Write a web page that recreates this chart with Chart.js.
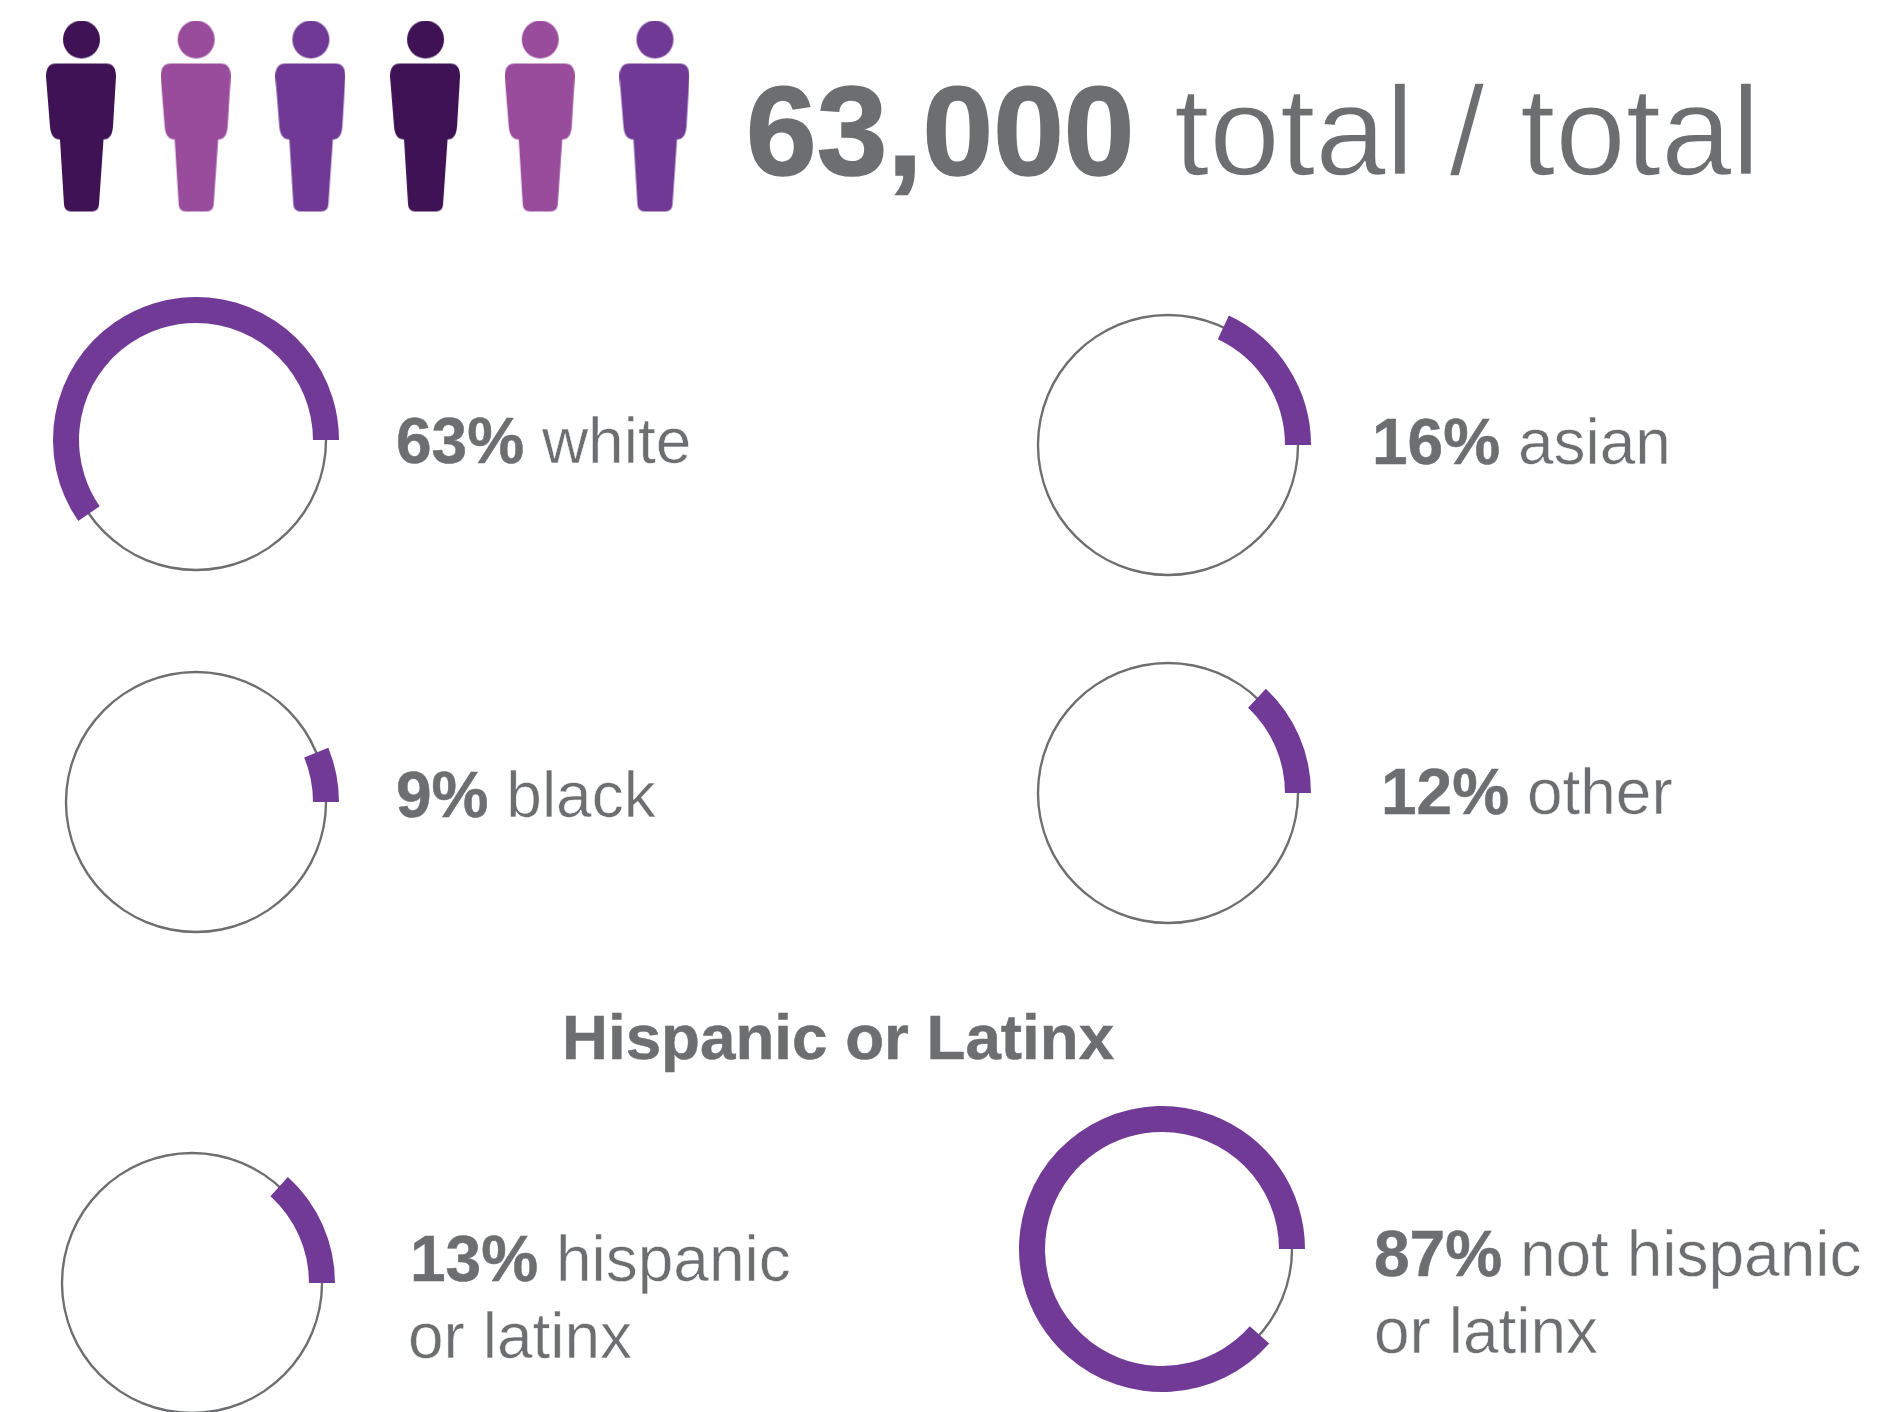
<!DOCTYPE html>
<html>
<head>
<meta charset="utf-8">
<script src="https://cdn.jsdelivr.net/npm/chart.js@4"></script>
<style>
    html, body { margin: 0; padding: 0; background: #fff; }
    #page { position: relative; width: 1883px; height: 1412px; overflow: hidden; }
    #page canvas { position: absolute; }
    .txt { position: absolute; white-space: nowrap; font-family: "Liberation Sans", sans-serif; color: #6d6e70; line-height: 1; -webkit-text-stroke: 0.5px #fff; }
    .txt b { font-weight: 700; -webkit-text-stroke: 0.5px #6d6e70; }
    .big { -webkit-text-stroke: 1.4px #fff; }
    .big b { -webkit-text-stroke: 1.6px #6d6e70; }
</style>
</head>
<body>
<div id="page"></div>
<script>
// people row
const peopleSlots = [0, 1, 2, 3, 4, 5];
const peopleColors = ['#3e1255', '#9a4c9c', '#6f3995', '#3e1255', '#9a4c9c', '#6f3995'];

// rings: share of the circle the purple arc covers
const ringNames = ['white', 'asian', 'black', 'other', 'hispanic', 'not hispanic'];
const ringShares = [59.6, 18, 6.2, 13, 13.3, 88.5];
const ringPercents = ['63%', '16%', '9%', '12%', '13%', '87%'];

const headline = '63,000';
const headlineRest = 'total / total';
const subtitle = 'Hispanic or Latinx';

const ringCenters = [[196, 440], [1168, 445], [196, 802], [1168, 793], [192, 1283], [1162, 1249]];
const purple = '#703a96';
const grey = '#6d6e70';

const page = document.getElementById('page');
Chart.defaults.animation = false;
Chart.defaults.plugins.legend.display = false;
Chart.defaults.plugins.tooltip.enabled = false;

function addCanvas(left, top, width, height) {
    const c = document.createElement('canvas');
    c.width = width;
    c.height = height;
    c.style.left = left + 'px';
    c.style.top = top + 'px';
    c.style.width = width + 'px';
    c.style.height = height + 'px';
    page.appendChild(c);
    return c;
}

function addText(left, baseline, size, html, cls) {
    const d = document.createElement('div');
    d.className = 'txt' + (cls ? ' ' + cls : '');
    d.style.left = left + 'px';
    d.style.top = (baseline - size * 0.8465) + 'px';
    d.style.fontSize = size + 'px';
    d.innerHTML = html;
    page.appendChild(d);
}

// person glyph used as the point style of the scatter chart
function personIcon(color) {
    const c = document.createElement('canvas');
    c.width = 70;
    c.height = 192;
    const g = c.getContext('2d');
    g.fillStyle = color;
    g.beginPath();
    g.ellipse(35.5, 19, 18.5, 19, 0, 0, Math.PI * 2);
    g.fill();
    g.beginPath();
    g.moveTo(10, 43);
    g.lineTo(60, 43);
    g.quadraticCurveTo(70, 43, 70, 56);
    g.lineTo(67, 106);
    g.quadraticCurveTo(66, 119, 57.5, 119);
    g.lineTo(53, 184);
    g.quadraticCurveTo(52.5, 191, 46, 191);
    g.lineTo(25, 191);
    g.quadraticCurveTo(18.5, 191, 18, 184);
    g.lineTo(14, 119);
    g.quadraticCurveTo(5, 119, 4, 106);
    g.lineTo(0, 56);
    g.quadraticCurveTo(0, 43, 10, 43);
    g.closePath();
    g.fill();
    return c;
}

new Chart(addCanvas(0, 1, 740, 231), {
    type: 'scatter',
    data: {
        datasets: [{
            data: peopleSlots.map(s => ({ x: s, y: 0 })),
            pointStyle: peopleColors.map(personIcon),
        }],
    },
    options: {
        responsive: false,
        layout: { padding: 0, autoPadding: false },
        scales: {
            x: { display: false, min: -0.706, max: 5.746 },
            y: { display: false, min: -1, max: 1 },
        },
    },
});

function ring(center, share) {
    const left = center[0] - 150;
    const top = center[1] - 150;
    // thin grey circle underneath
    new Chart(addCanvas(left, top, 300, 300), {
        type: 'doughnut',
        data: { datasets: [{ data: [100], backgroundColor: [grey], borderWidth: 0 }] },
        options: { responsive: false, radius: 131.2, cutout: '98.2%' },
    });
    // purple arc, runs anticlockwise from 3 o'clock
    new Chart(addCanvas(left, top, 300, 300), {
        type: 'doughnut',
        data: {
            labels: ['rest', 'share'],
            datasets: [{
                data: [100 - share, share],
                backgroundColor: ['rgba(0,0,0,0)', purple],
                borderWidth: 0,
            }],
        },
        options: { responsive: false, rotation: 90, radius: 143, cutout: '81.8%' },
    });
}

ringCenters.forEach((c, i) => ring(c, ringShares[i]));

addText(746, 176, 127, `<b>${headline}</b>`, 'big');
addText(1174, 176, 127, headlineRest, 'big');

const labelSize = 64;
addText(396, 463, labelSize, `<b>${ringPercents[0]}</b> ${ringNames[0]}`);
addText(1372, 464, labelSize, `<b>${ringPercents[1]}</b> ${ringNames[1]}`);
addText(396, 817, labelSize, `<b>${ringPercents[2]}</b> ${ringNames[2]}`);
addText(1381, 814, labelSize, `<b>${ringPercents[3]}</b> ${ringNames[3]}`);
addText(562, 1059, 63.7, `<b>${subtitle}</b>`);
addText(410, 1281, labelSize, `<b>${ringPercents[4]}</b> ${ringNames[4]}`);
addText(408, 1358, labelSize, 'or latinx');
addText(1374, 1276, labelSize, `<b>${ringPercents[5]}</b> ${ringNames[5]}`);
addText(1374, 1353, labelSize, 'or latinx');
</script>
</body>
</html>
